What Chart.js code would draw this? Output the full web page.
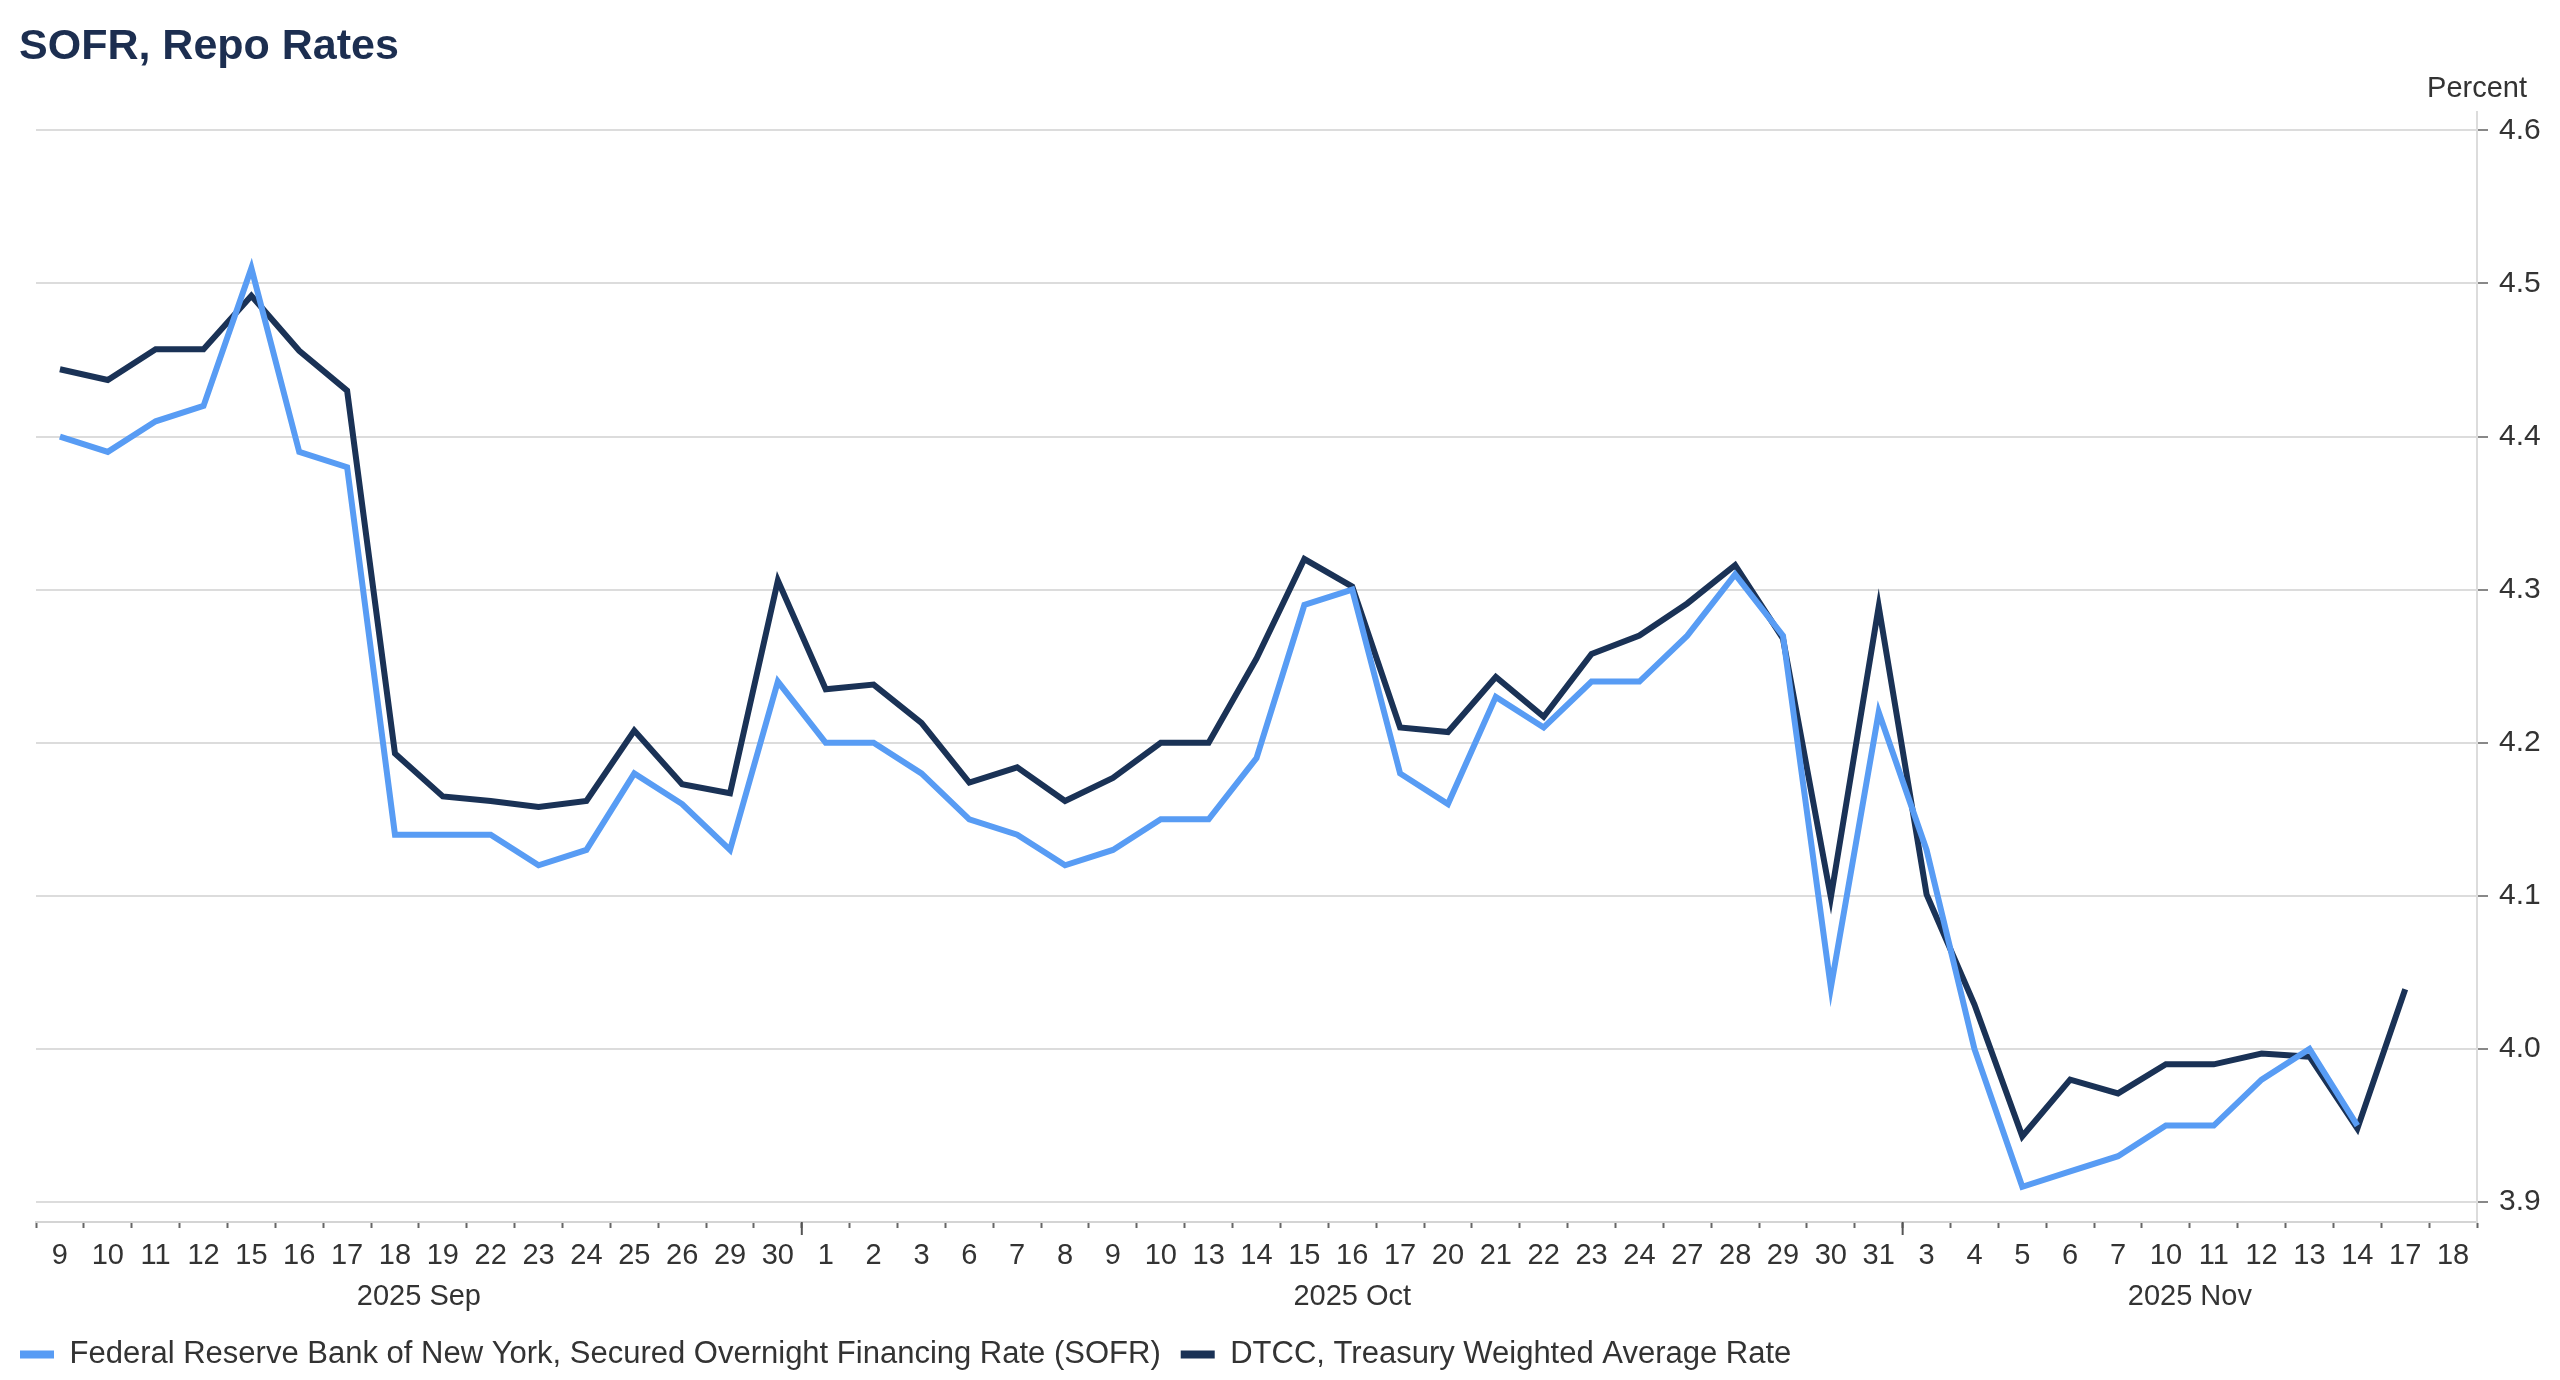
<!DOCTYPE html>
<html>
<head>
<meta charset="utf-8">
<title>SOFR, Repo Rates</title>
<script src="https://cdn.jsdelivr.net/npm/chart.js@4.4.1/dist/chart.umd.min.js"></script>
<style>
    html, body { margin: 0; padding: 0; background: #fff; }
    #wrap { width: 2560px; height: 1380px; position: relative; }
</style>
</head>
<body>
<div id="wrap"><canvas id="repoChart"></canvas></div>
<script>
// trading days, Sep 9 - Nov 18 2025
var days = ['9','10','11','12','15','16','17','18','19','22','23','24','25','26','29','30',
    '1','2','3','6','7','8','9','10','13','14','15','16','17','20','21','22','23','24','27','28','29','30','31',
    '3','4','5','6','7','10','11','12','13','14','17','18'];
var monthNames = ['2025 Sep', '2025 Oct', '2025 Nov'];
var monthSizes = [16, 23, 12];

var sofr = [4.40,4.39,4.41,4.42,4.51,4.39,4.38,4.14,4.14,4.14,4.12,4.13,4.18,4.16,4.13,4.24,
    4.20,4.20,4.18,4.15,4.14,4.12,4.13,4.15,4.15,4.19,4.29,4.30,4.18,4.16,4.23,4.21,4.24,4.24,4.27,4.31,4.27,4.04,4.22,
    4.13,4.00,3.91,3.92,3.93,3.95,3.95,3.98,4.00,3.95,null,null];
var dtcc = [4.444,4.437,4.457,4.457,4.492,4.456,4.430,4.193,4.165,4.162,4.158,4.162,4.208,4.173,4.167,4.306,
    4.235,4.238,4.213,4.174,4.184,4.162,4.177,4.200,4.200,4.255,4.320,4.302,4.210,4.207,4.243,4.217,4.258,4.270,4.291,4.316,4.268,4.099,4.289,
    4.101,4.029,3.943,3.980,3.971,3.990,3.990,3.997,3.995,3.948,4.039,null];

var yTicks = [3.9, 4.0, 4.1, 4.2, 4.3, 4.4, 4.5, 4.6];

var FONT = 'Arial, "Liberation Sans", sans-serif';
Chart.defaults.font.family = FONT;
Chart.defaults.color = '#333';

// title, "Percent" caption, month captions and longer ticks at month breaks
var chartText = {
    id: 'chartText',
    afterDraw: function(chart) {
        var ctx = chart.ctx;
        var x = chart.scales.x;
        var bottom = chart.chartArea.bottom;
        var start = 0;
        ctx.save();

        ctx.font = 'bold 43px ' + FONT;
        ctx.fillStyle = '#1c2e50';
        ctx.textAlign = 'left';
        ctx.textBaseline = 'alphabetic';
        ctx.fillText('SOFR, Repo Rates', 19, 59);

        ctx.font = '29px ' + FONT;
        ctx.fillStyle = '#333';
        ctx.textAlign = 'center';
        ctx.textBaseline = 'middle';
        for (var m = 0; m < monthNames.length; m++) {
            var end = start + monthSizes[m] - 1;
            var cx = (x.getPixelForValue(start) + x.getPixelForValue(end)) / 2;
            ctx.fillText(monthNames[m], cx, bottom + 75);
            if (start > 0) {
                var bx = (x.getPixelForValue(start - 1) + x.getPixelForValue(start)) / 2;
                ctx.strokeStyle = '#555';
                ctx.lineWidth = 2;
                ctx.beginPath();
                ctx.moveTo(bx, bottom);
                ctx.lineTo(bx, bottom + 13);
                ctx.stroke();
            }
            start = end + 1;
        }
        ctx.textAlign = 'right';
        ctx.fillText('Percent', chart.width - 33, 89);
        ctx.restore();
    }
};

var ctx = document.getElementById('repoChart').getContext('2d');
var repoChart = new Chart(ctx, {
    type: 'line',
    data: {
        labels: days,
        datasets: [{
            label: 'Federal Reserve Bank of New York, Secured Overnight Financing Rate (SOFR)',
            data: sofr,
            borderColor: '#589cf4',
            backgroundColor: '#589cf4',
            borderWidth: 6,
            pointRadius: 0,
            tension: 0,
            yAxisID: 'y'
        }, {
            label: 'DTCC, Treasury Weighted Average Rate',
            data: dtcc,
            borderColor: '#1a3256',
            backgroundColor: '#1a3256',
            borderWidth: 6,
            pointRadius: 0,
            tension: 0,
            yAxisID: 'y'
        }]
    },
    options: {
        responsive: true,
        maintainAspectRatio: false,
        animation: false,
        layout: { padding: { left: 0, right: 0, top: 112, bottom: 0 } },
        plugins: {
            tooltip: { enabled: false },
            title: { display: false },
            legend: {
                position: 'bottom',
                align: 'start',
                labels: {
                    boxWidth: 34,
                    boxHeight: 8,
                    padding: 20,
                    color: '#333',
                    font: { size: 31 },
                    generateLabels: function(chart) {
                        var items = Chart.defaults.plugins.legend.labels.generateLabels(chart);
                        items.forEach(function(it) { it.lineWidth = 0; });
                        return items;
                    }
                }
            }
        },
        scales: {
            x: {
                offset: true,
                grid: { drawOnChartArea: false, drawTicks: true, tickLength: 6, tickColor: '#666', tickWidth: 2, offset: true },
                border: { color: '#d4d4d4', width: 2 },
                ticks: { autoSkip: false, maxRotation: 0, padding: 11, color: '#333', font: { size: 29 } },
                afterFit: function(s) { s.height = 97; }
            },
            yLeft: {
                position: 'left',
                display: true,
                grid: { display: false },
                border: { display: false },
                ticks: { display: false },
                afterFit: function(s) { s.width = 36; }
            },
            y: {
                position: 'right',
                min: 3.887,
                max: 4.612,
                afterBuildTicks: function(s) {
                    s.ticks = yTicks.map(function(v) { return { value: v }; });
                },
                afterFit: function(s) { s.width = 83; },
                grid: { color: '#dcdcdc', lineWidth: 2, drawTicks: true, tickLength: 11, tickColor: '#888', tickWidth: 2 },
                border: { display: true, color: '#dcdcdc', width: 2 },
                ticks: {
                    padding: 11,
                    color: '#333',
                    font: { size: 30 },
                    callback: function(v) { return v.toFixed(1); }
                }
            }
        }
    },
    plugins: [chartText]
});
</script>
</body>
</html>
